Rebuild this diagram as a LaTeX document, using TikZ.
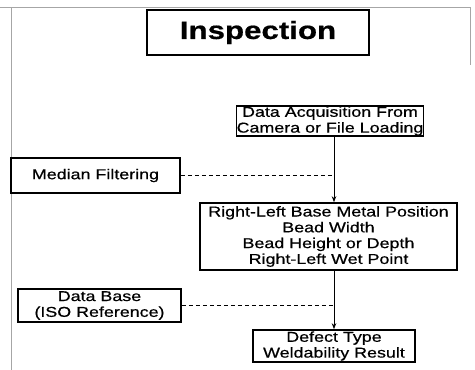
\documentclass[tikz,border=0pt]{standalone}
\usepackage{fontspec}
\setmainfont{Liberation Sans}[FakeStretch=1.25,FakeBold=0.6]
\usetikzlibrary{arrows.meta}
\begin{document}
\begin{tikzpicture}[x=1pt,y=-1pt,
  box/.style={draw,line width=1.6pt,inner sep=0pt,align=center,font=\fontsize{14.3}{15.8}\selectfont},
  flow/.style={line width=0.8pt,-{Stealth[length=6pt,width=4.5pt]}},
  side/.style={line width=0.8pt,dashed,dash pattern=on 4pt off 3pt},
  frame/.style={gray!70,line width=0.6pt}]
\useasboundingbox (0,0) rectangle (475,370);
\draw[frame] (0,7) -- (470,7);
\draw[frame] (11,7) -- (11,370);
\draw[frame] (470,7) -- (470,65);
\node[box,minimum width=222pt,minimum height=45pt,font=\fontsize{25}{28}\bfseries] (insp) at (258,32.5) {Inspection};
\node[box,minimum width=186pt,minimum height=30pt] (acq) at (330,121) {Data Acquisition From\\Camera or File Loading};
\node[box,minimum width=169pt,minimum height=35pt] (med) at (95.5,175.5) {Median Filtering};
\node[box,minimum width=257pt,minimum height=67pt] (rl) at (328.5,236.5) {Right-Left Base Metal Position\\Bead Width\\Bead Height or Depth\\Right-Left Wet Point};
\node[box,minimum width=163pt,minimum height=33pt] (db) at (99.5,305.5) {Data Base\\(ISO Reference)};
\node[box,minimum width=162pt,minimum height=32pt] (def) at (334,346) {Defect Type\\Weldability Result};
\draw[flow] (acq.south -| def.north) -- (rl.north -| def.north);
\draw[flow] (rl.south -| def.north) -- (def.north);
\draw[side] (med.east) -- (med.east -| def.north);
\draw[side] (db.east) -- (db.east -| def.north);
\end{tikzpicture}
\end{document}
